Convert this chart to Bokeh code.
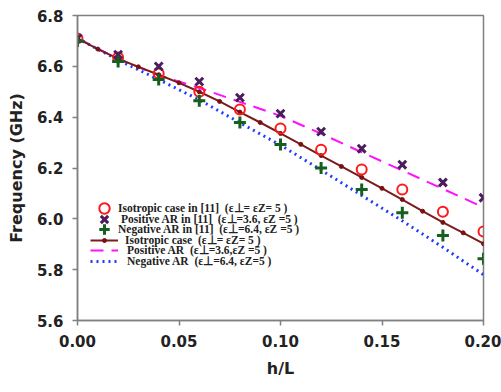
from bokeh.plotting import figure
from bokeh.models import Range1d, FixedTicker, NumeralTickFormatter, Legend, LegendItem
from bokeh.embed import file_html
from bokeh.resources import INLINE

# ---- data ----
x_ref = [0.00, 0.02, 0.04, 0.06, 0.08, 0.10, 0.12, 0.14, 0.16, 0.18, 0.20]
iso_ref = [6.71, 6.635, 6.572, 6.50, 6.43, 6.355, 6.272, 6.194, 6.115, 6.028, 5.95]
pos_ref = [6.71, 6.646, 6.60, 6.54, 6.477, 6.414, 6.343, 6.276, 6.213, 6.143, 6.083]
neg_ref = [6.70, 6.619, 6.548, 6.465, 6.379, 6.292, 6.20, 6.115, 6.024, 5.934, 5.843]

x_iso = [0.00, 0.01, 0.02, 0.03, 0.04, 0.05, 0.06, 0.07, 0.08, 0.09, 0.10,
         0.11, 0.12, 0.13, 0.14, 0.15, 0.16, 0.17, 0.18, 0.19, 0.20]
iso_line = [6.710, 6.668, 6.630, 6.598, 6.567, 6.535, 6.500, 6.462, 6.420, 6.379, 6.336,
            6.293, 6.249, 6.206, 6.163, 6.120, 6.076, 6.030, 5.986, 5.945, 5.902]

x_ar = [0.00, 0.02, 0.04, 0.06, 0.08, 0.10, 0.12, 0.14, 0.16, 0.18, 0.20]
pos_line = [6.71, 6.63, 6.565, 6.515, 6.46, 6.405, 6.335, 6.262, 6.19, 6.118, 6.045]
neg_line = [6.71, 6.625, 6.548, 6.468, 6.378, 6.29, 6.192, 6.092, 5.992, 5.888, 5.78]

x_ticks = [0.00, 0.05, 0.10, 0.15, 0.20]
y_ticks = [5.6, 5.8, 6.0, 6.2, 6.4, 6.6, 6.8]

labels = [
    "Isotropic case in [11]  (\u03b5\u22a5= \u03b5Z= 5 )",
    "Positive AR in [11]  (\u03b5\u22a5=3.6, \u03b5Z =5 )",
    "Negative AR in [11]  (\u03b5\u22a5=6.4, \u03b5Z =5 )",
    "Isotropic case  (\u03b5\u22a5= \u03b5Z= 5 )",
    "Positive AR  (\u03b5\u22a5=3.6,\u03b5Z =5 )",
    "Negative AR  (\u03b5\u22a5=6.4, \u03b5Z=5 )",
]

p = figure(width=501, height=392, output_backend="svg", toolbar_location=None,
           x_range=Range1d(0.0, 0.2), y_range=Range1d(5.6, 6.8),
           min_border_left=77, min_border_right=18, min_border_top=15, min_border_bottom=72)
p.background_fill_color = "white"
p.border_fill_color = "white"
p.outline_line_color = "#808080"
p.outline_line_width = 1.5
p.xgrid.visible = False
p.ygrid.visible = False

# model lines
r_pos = p.line(x_ar, pos_line, line_color="#FF10FF", line_width=2, line_dash="13 8")
r_neg = p.line(x_ar, neg_line, line_color="#1F3CFF", line_width=3, line_dash="2 4")
r_iso = p.line(x_iso, iso_line, line_color="#7B1C1C", line_width=2)
r_iso_d = p.scatter(x_iso, iso_line, marker="circle", size=4, fill_color="#7A1010", line_color="#7A1010")

# reference [11] markers
r_c = p.scatter(x_ref, iso_ref, marker="circle", size=10, fill_alpha=0, line_color="#FF1A1A", line_width=2)
r_x = p.scatter(x_ref, pos_ref, marker="x", size=11, line_color="#4B1C5E", line_width=3)
r_p = p.scatter(x_ref, neg_ref, marker="cross", size=12, line_color="#15601E", line_width=3)

# legend: one small legend per row so rows can sit closer than the glyph box
row_renderers = [r_c, r_x, r_p, r_iso, r_pos, r_neg]
row_standoff = [0, 3, 0, 7, 9, 9]
row_pitch = 10.5
first_row_bottom = 99  # px above frame bottom for the first row's box bottom
for i, (lab, rend) in enumerate(zip(labels, row_renderers)):
    lg = Legend(items=[LegendItem(label=lab, renderers=[rend])],
                location=(13, first_row_bottom - i * row_pitch),
                glyph_width=28, glyph_height=26, spacing=0, padding=0, margin=0,
                label_standoff=row_standoff[i],
                label_text_font="Liberation Serif", label_text_font_style="bold",
                label_text_font_size="11.5px", label_text_color="#222222",
                background_fill_alpha=0, border_line_alpha=0, label_height=10)
    p.add_layout(lg, "center")

# small dot on the isotropic-case legend line
lg_dot = Legend(items=[LegendItem(label=" ", renderers=[r_iso_d])],
                location=(13, first_row_bottom - 3 * row_pitch + 8),
                glyph_width=28, glyph_height=10, spacing=0, padding=0, margin=0,
                label_standoff=0, label_text_font_size="1px",
                background_fill_alpha=0, border_line_alpha=0, label_height=10)
p.add_layout(lg_dot, "center")

for ax in (p.xaxis[0], p.yaxis[0]):
    ax.axis_line_color = "#808080"
    ax.axis_line_width = 1.5
    ax.major_tick_line_color = "#808080"
    ax.major_tick_line_width = 1.5
    ax.major_tick_out = 5
    ax.major_tick_in = 0
    ax.minor_tick_line_color = None
    ax.major_label_text_font = "DejaVu Sans"
    ax.major_label_text_font_style = "bold"
    ax.major_label_text_font_size = "15px"
    ax.major_label_text_color = "#222222"
    ax.axis_label_text_font = "DejaVu Sans"
    ax.axis_label_text_font_style = "bold"
    ax.axis_label_text_font_size = "16px"
    ax.axis_label_text_color = "#222222"

p.xaxis.ticker = FixedTicker(ticks=x_ticks)
p.yaxis.ticker = FixedTicker(ticks=y_ticks)
p.xaxis.formatter = NumeralTickFormatter(format="0.00")
p.yaxis.formatter = NumeralTickFormatter(format="0.0")
p.xaxis.axis_label = "h/L"
p.yaxis.axis_label = "Frequency (GHz)"
p.xaxis.major_label_standoff = 9
p.yaxis.major_label_standoff = 9
p.xaxis.axis_label_standoff = 9
p.yaxis.axis_label_standoff = 8

open("out.html", "w").write(file_html(p, INLINE))
